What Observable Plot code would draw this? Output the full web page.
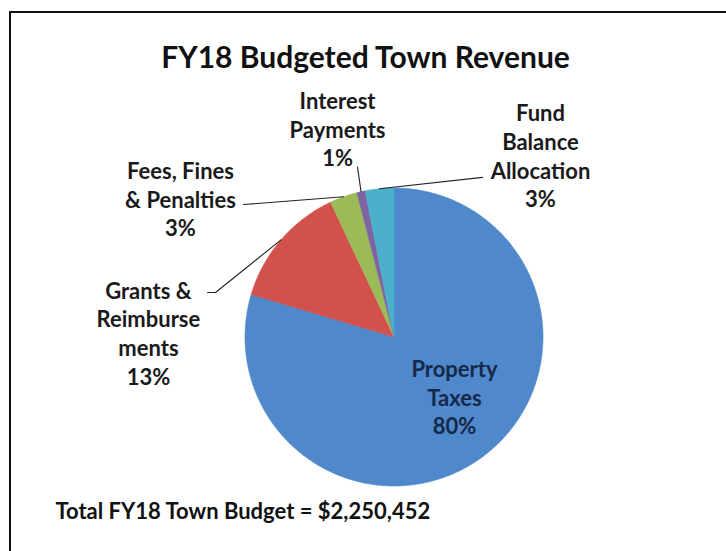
<!DOCTYPE html>
<html>
<head>
<meta charset="utf-8">
<script src="https://cdn.jsdelivr.net/npm/d3@7"></script>
<script src="https://cdn.jsdelivr.net/npm/@observablehq/plot@0.6"></script>
<style>
  html, body { margin: 0; padding: 0; background: #fff; overflow: hidden; }
  #wrap { position: relative; width: 726px; height: 551px; }
  #border { position: absolute; left: 9px; top: 11px; width: 800px; height: 600px;
            border-top: 2px solid #111; border-left: 2px solid #111; pointer-events: none; }
</style>
</head>
<body>
<div id="wrap"><div id="chart"></div><div id="border"></div></div>
<script>
// ---- data ----
const categories = ["Property Taxes", "Grants & Reimbursements", "Fees, Fines & Penalties", "Interest Payments", "Fund Balance Allocation"];
const shares = [79.6, 13.4, 3.0, 0.9, 3.1];
const labelLines = [["Property", "Taxes"], ["Grants &", "Reimburse", "ments"], ["Fees, Fines", "& Penalties"], ["Interest", "Payments"], ["Fund", "Balance", "Allocation"]];
const colors = ["#4f88cb", "#d2514c", "#9bbb59", "#8064a2", "#4bb0cc"];
const titleText = "FY18 Budgeted Town Revenue";
const footerText = "Total FY18 Town Budget = $2,250,452";

// ---- layout (pie is a unit circle in data space) ----
const W = 726, H = 551, CX = 393.5, CY = 336.5, R = 149;
// label block centres, in pie-radius units
const labelPos = [[0.406, -0.40], [-1.648, 0.03], [-1.433, 0.93], [-0.379, 1.40], [0.983, 1.22]];
// leader-line start points near the labels
const leaderStart = [null, [[-1.252, 0.299], [-1.198, 0.299]], [[-1.010, 0.889]], [[-0.245, 1.140]], [[0.594, 1.071]]];
const labelColor = ["#15294a", "#1a1a1a", "#1a1a1a", "#1a1a1a", "#1a1a1a"];

// ---- build slices ----
const total = d3.sum(shares);
let acc = 0;
const pieRows = [];
const mids = [];
shares.forEach((s, i) => {
  const a0 = acc / total * 2 * Math.PI;
  acc += s;
  const a1 = acc / total * 2 * Math.PI;
  mids.push((a0 + a1) / 2);
  const n = Math.max(2, Math.ceil((a1 - a0) / (Math.PI / 360)));
  pieRows.push({cat: categories[i], x: 0, y: 0});
  for (let k = 0; k <= n; k++) {
    const a = a0 + (a1 - a0) * k / n;
    pieRows.push({cat: categories[i], x: Math.sin(a), y: Math.cos(a)});
  }
  pieRows.push({cat: categories[i], x: 0, y: 0});
});

const leaderRows = [];
leaderStart.forEach((pts, i) => {
  if (!pts) return;
  pts.forEach(p => leaderRows.push({cat: categories[i], x: p[0], y: p[1]}));
  leaderRows.push({cat: categories[i], x: Math.sin(mids[i]), y: Math.cos(mids[i])});
});

const labelRows = categories.map((c, i) => ({
  cat: c,
  x: labelPos[i][0],
  y: labelPos[i][1],
  text: labelLines[i].join("\n") + "\n" + Math.round(shares[i] / total * 100) + "%",
  color: labelColor[i]
}));

const chart = Plot.plot({
  width: W, height: H,
  margin: 0,
  x: {domain: [-CX / R, (W - CX) / R], axis: null},
  y: {domain: [-(H - CY) / R, CY / R], axis: null},
  color: {domain: categories, range: colors},
  style: {fontFamily: "Lato, sans-serif", background: "white"},
  marks: [
    Plot.line(pieRows, {x: "x", y: "y", z: "cat", fill: "cat", stroke: "cat", strokeWidth: 0.6, curve: "linear"}),
    Plot.line(leaderRows, {x: "x", y: "y", z: "cat", stroke: "#222", strokeWidth: 1.1}),
    Plot.text(labelRows, {x: "x", y: "y", text: "text", fill: "color", fontSize: 22, fontWeight: "bold", lineHeight: 1.3, lineAnchor: "middle"}),
    Plot.text([titleText], {x: -0.191, y: 1.87, text: d => d, fontSize: 30, fontWeight: "bold", fill: "#111"}),
    Plot.text([footerText], {x: -2.272, y: -1.175, text: d => d, fontSize: 22, fontWeight: "bold", fill: "#111", textAnchor: "start"})
  ]
});
document.getElementById("chart").appendChild(chart);
</script>
</body>
</html>
